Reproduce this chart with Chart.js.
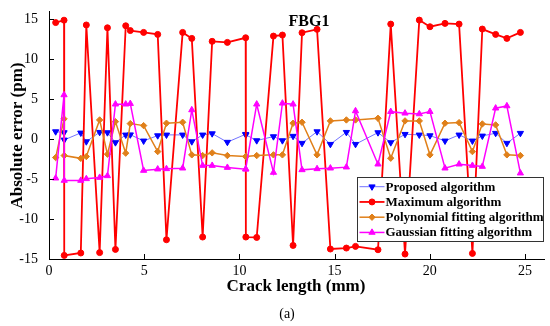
<!DOCTYPE html>
<html>
<head>
<meta charset="utf-8">
<script src="https://cdn.jsdelivr.net/npm/chart.js@4.4.1/dist/chart.umd.min.js"></script>
<style>
  html, body { margin: 0; padding: 0; background: #ffffff; }
  #wrap { width: 550px; height: 326px; position: relative; }
  canvas { display: block; }
</style>
</head>
<body>
<div id="wrap"><canvas id="c" width="550" height="326"></canvas></div>
<script>
// ---- Data ----
const crackLength = [0.35, 0.79, 0.80, 1.67, 1.96, 2.66, 3.07, 3.49, 4.03, 4.27,
  4.97, 5.71, 6.17, 7.02, 7.50, 8.07, 8.57, 9.37, 10.33, 10.34,
  10.91, 11.79, 12.26, 12.82, 13.29, 14.08, 14.78, 15.62, 16.10, 17.28,
  17.95, 18.70, 19.45, 20.01, 20.80, 21.54, 22.24, 22.76, 23.46, 24.05, 24.76];

const proposed = [0.95, 0.83, -0.09, 0.79, -0.30, 0.87, 0.83, -0.42, 0.54, 0.56,
  -0.21, 0.45, 0.54, 0.54, -0.30, 0.54, 0.70, -0.37, 0.62, 0.55,
  -0.17, 0.33, -0.17, 0.38, -0.50, 0.95, -0.63, 0.87, -0.63, 0.83,
  -0.42, 0.62, 0.54, 0.45, -0.21, 0.54, -0.21, 0.41, 0.75, -0.50, 0.75];

const maximum = [14.6, 14.9, -14.55, -14.25, 14.3, -14.2, 13.95, -13.8, 14.2, 13.6,
  13.37, 13.12, -12.59, 13.37, 12.62, -12.25, 12.25, 12.12, 12.7, -12.25,
  -12.3, 12.91, 13.04, -13.3, 13.33, 13.75, -13.75, -13.63, -13.42, -13.84,
  14.41, -14.38, 14.91, 14.08, 14.5, 14.41, -14.3, 13.79, 13.12, 12.62, 13.37];

const polynomial = [-2.3, 2.54, -2.05, -2.4, -2.17, 2.41, -1.88, 2.2, -1.75, 1.95,
  1.7, -1.55, 2.0, 2.12, -1.96, -2.05, -1.71, -2.05, -2.17, -2.17,
  -2.05, -1.96, -1.96, 2.0, 2.12, -1.96, 2.29, 2.41, 2.41, 2.62,
  -2.38, 2.29, 2.29, -1.96, 2.0, 2.08, -1.55, 1.91, 1.79, -1.96, -2.05];

const gaussian = [-4.88, 5.54, -5.17, -5.17, -4.96, -4.8, -4.59, 4.38, 4.38, 4.45,
  -3.92, -3.75, -3.71, -3.63, 3.66, -3.3, -3.3, -3.55, -3.75, -3.75,
  4.38, -4.17, 4.5, 4.38, -3.84, -3.71, -3.63, -3.5, 3.54, -3.13,
  3.45, 3.25, 3.16, 3.45, -3.63, -3.13, -3.3, -3.42, 3.88, 4.16, -4.25];

const seriesNames = ['Proposed algorithm', 'Maximum algorithm', 'Polynomial fitting algorithm', 'Gaussian fitting algorithm'];
const xTicks = [0, 5, 10, 15, 20, 25];
const yTicks = [-15, -10, -5, 0, 5, 10, 15];
const chartTitle = 'FBG1';
const xTitle = 'Crack length (mm)';
const yTitle = 'Absolute error (pm)';
const caption = '(a)';

// ---- Styles ----
const SERIF = '"Liberation Serif", "Times New Roman", serif';
const styles = [
  { line: 'rgba(90,90,255,0.85)', point: '#0000ff', width: 1, style: 'triangle', rotation: 180, radius: 3.6, order: 3 },
  { line: '#ff0000', point: '#ff0000', width: 1.8, style: 'circle', rotation: 0, radius: 3, order: 2 },
  { line: '#e0801a', point: '#e0801a', width: 1.5, style: 'rectRot', rotation: 0, radius: 3.2, order: 1 },
  { line: '#ff00ff', point: '#ff00ff', width: 1.5, style: 'triangle', rotation: 0, radius: 3.6, order: 0 }
];
const values = [proposed, maximum, polynomial, gaussian];

const datasets = values.map((arr, i) => ({
  label: seriesNames[i],
  data: arr.map((v, k) => ({ x: crackLength[k], y: v })),
  borderColor: styles[i].line,
  backgroundColor: styles[i].point,
  pointBackgroundColor: styles[i].point,
  pointBorderColor: styles[i].point,
  borderWidth: styles[i].width,
  pointStyle: styles[i].style,
  pointRotation: styles[i].rotation,
  pointRadius: styles[i].radius,
  pointBorderWidth: 1,
  tension: 0,
  order: styles[i].order
}));

const decor = {
  id: 'decor',
  afterDatasetsDraw(chart) {
    const ctx = chart.ctx;
    const xs = chart.scales.x, ys = chart.scales.y;
    const ca = chart.chartArea;
    ctx.save();
    // inward ticks
    ctx.strokeStyle = '#000';
    ctx.lineWidth = 1;
    ctx.beginPath();
    xTicks.forEach(v => {
      const p = Math.round(xs.getPixelForValue(v)) + 0.5;
      ctx.moveTo(p, ca.bottom);
      ctx.lineTo(p, ca.bottom - 5);
    });
    yTicks.forEach(v => {
      const p = Math.round(ys.getPixelForValue(v)) + 0.5;
      ctx.moveTo(ca.left, p);
      ctx.lineTo(ca.left + 5, p);
    });
    ctx.stroke();

    // legend box
    const bx = 357.5, by = 177.5, bw = 186, bh = 64;
    ctx.fillStyle = '#ffffff';
    ctx.fillRect(bx, by, bw, bh);
    ctx.strokeStyle = '#333333';
    ctx.lineWidth = 1;
    ctx.strokeRect(bx, by, bw, bh);
    ctx.font = 'bold 13px ' + SERIF;
    ctx.textBaseline = 'middle';
    ctx.textAlign = 'left';
    seriesNames.forEach((name, i) => {
      const cy = 186.7 + i * 15.25;
      ctx.strokeStyle = styles[i].line;
      ctx.lineWidth = styles[i].width;
      ctx.beginPath();
      ctx.moveTo(bx + 2, cy);
      ctx.lineTo(bx + 27, cy);
      ctx.stroke();
      ctx.fillStyle = styles[i].point;
      ctx.strokeStyle = styles[i].point;
      ctx.lineWidth = 1;
      Chart.helpers.drawPoint(ctx, { pointStyle: styles[i].style, rotation: styles[i].rotation, radius: styles[i].radius, borderWidth: 1 }, bx + 14.5, cy);
      ctx.fillStyle = '#000';
      ctx.fillText(name, bx + 28, cy + 0.5);
    });

    // chart title
    ctx.fillStyle = '#000';
    ctx.textAlign = 'center';
    ctx.textBaseline = 'alphabetic';
    ctx.font = 'bold 16px ' + SERIF;
    ctx.fillText(chartTitle, 309, 26);
    // x title
    ctx.font = 'bold 17px ' + SERIF;
    ctx.fillText(xTitle, 296, 291);
    // caption
    ctx.font = '14px ' + SERIF;
    ctx.fillText(caption, 287, 318);
    // y title
    ctx.translate(22, 135.5);
    ctx.rotate(-Math.PI / 2);
    ctx.font = 'bold 17px ' + SERIF;
    ctx.textBaseline = 'alphabetic';
    ctx.fillText(yTitle, 0, 0);
    ctx.restore();
  }
};

new Chart(document.getElementById('c'), {
  type: 'line',
  data: { datasets },
  options: {
    responsive: false,
    animation: false,
    devicePixelRatio: 1,
    layout: { padding: { left: 0, right: 6, top: 10, bottom: 0 } },
    plugins: { legend: { display: false }, tooltip: { enabled: false }, title: { display: false } },
    scales: {
      x: {
        type: 'linear',
        min: 0, max: 26,
        afterBuildTicks: s => { s.ticks = xTicks.map(v => ({ value: v })); },
        afterFit: s => { s.height = 67; },
        grid: { display: false },
        border: { display: true, color: '#000', width: 1 },
        ticks: { color: '#000', font: { family: SERIF, size: 14 }, padding: -4, maxRotation: 0, autoSkip: false }
      },
      y: {
        type: 'linear',
        min: -15, max: 16,
        afterBuildTicks: s => { s.ticks = yTicks.map(v => ({ value: v })); },
        afterFit: s => { s.width = 49; },
        grid: { display: false },
        border: { display: true, color: '#000', width: 1 },
        ticks: { color: '#000', font: { family: SERIF, size: 14 }, padding: 3, autoSkip: false }
      }
    }
  },
  plugins: [decor]
});
</script>
</body>
</html>
